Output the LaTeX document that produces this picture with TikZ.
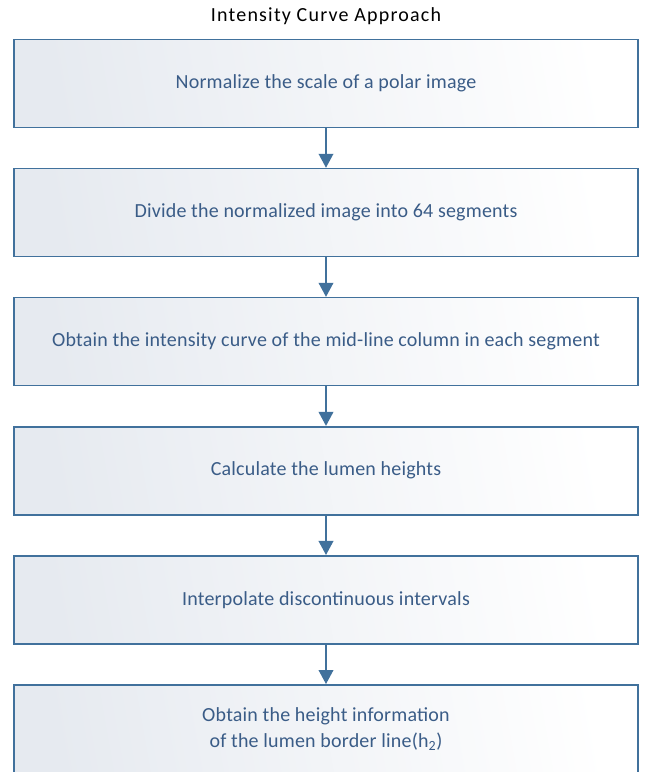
\documentclass[tikz,border=0pt]{standalone}
\usepackage{fontspec}
\setmainfont{Carlito}
\newfontfamily\titlefont[LetterSpace=6]{Carlito}
\newfontfamily\stepfont[LetterSpace=1]{Carlito}
\usetikzlibrary{positioning,arrows.meta}
\definecolor{stepline}{RGB}{65,113,156}
\definecolor{steptext}{RGB}{58,92,135}
\definecolor{stepfill}{RGB}{230,234,240}
\begin{document}
\begin{tikzpicture}[x=0.75pt, y=-0.75pt,
   stepbox/.style={draw=stepline, line width=1.6pt*0.75,
     left color=stepfill, right color=white, shading angle=100,
     minimum width=468pt, minimum height=66pt, inner sep=0pt,
     text=steptext, align=center, font=\stepfont\fontsize{15pt}{20pt}\selectfont},
   flow/.style={draw=stepline, line width=1.6pt*0.75,
     -{Triangle[length=10.5pt, width=11pt]}},
   node distance=29.6pt]
 \clip (0,0) rectangle (644,772);
 \node[font=\titlefont\fontsize{15pt}{18pt}\selectfont] (title) at (326,16) {Intensity Curve Approach};
 \node[stepbox] (norm) at (326,83.5) {Normalize the scale of a polar image};
 \node[stepbox, below=of norm]   (divide) {Divide the normalized image into 64 segments};
 \node[stepbox, below=of divide] (curve)  {Obtain the intensity curve of the mid-line column in each segment};
 \node[stepbox, below=of curve]  (lumen)  {Calculate the lumen heights};
 \node[stepbox, below=of lumen]  (interp) {Interpolate discontinuous intervals};
 \node[stepbox, below=of interp] (height) {Obtain the height information\\ of the lumen border line(h\textsubscript{2})};
 \draw[flow] (norm)   -- (divide);
 \draw[flow] (divide) -- (curve);
 \draw[flow] (curve)  -- (lumen);
 \draw[flow] (lumen)  -- (interp);
 \draw[flow] (interp) -- (height);
\end{tikzpicture}
\end{document}
